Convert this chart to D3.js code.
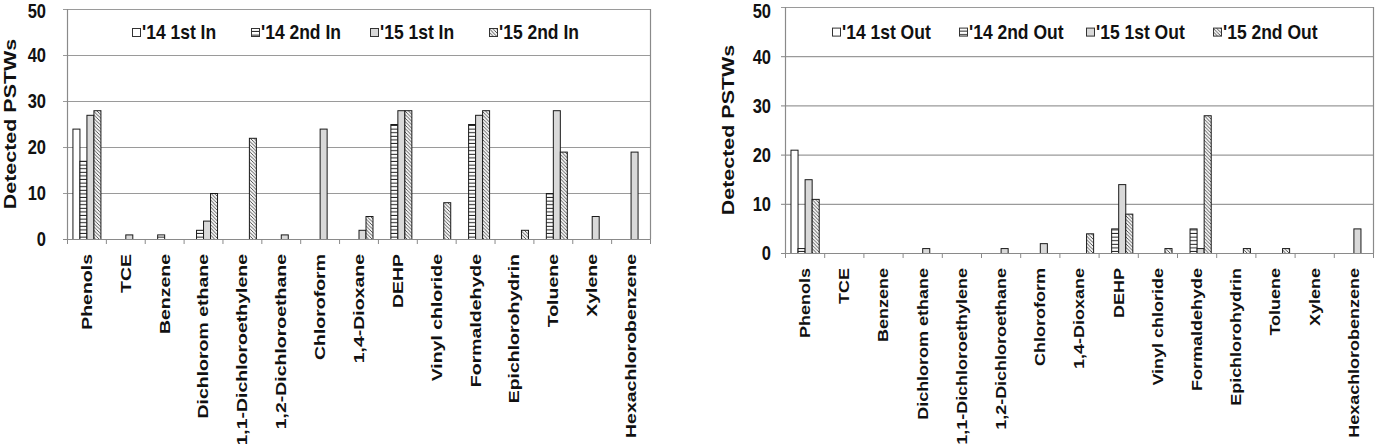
<!DOCTYPE html>
<html>
<head>
<meta charset="utf-8">
<script src="https://cdn.jsdelivr.net/npm/d3@7"></script>
<style>
  body { margin: 0; background: #fff; }
  svg { display: block; font-family: 'Liberation Sans', Arial, sans-serif; font-weight: bold; }
</style>
</head>
<body>
<div id="root"></div>
<script>
const categories = ['Phenols', 'TCE', 'Benzene', 'Dichloromethane', '1,1-Dichloroethylene',
  '1,2-Dichloroethane', 'Chloroform', '1,4-Dioxane', 'DEHP', 'Vinyl chloride',
  'Formaldehyde', 'Epichlorohydrin', 'Toluene', 'Xylene', 'Hexachlorobenzene']
// display text of the labels (the source splits one label oddly)
const categoryText = ['Phenols', 'TCE', 'Benzene', 'Dichlorom ethane', '1,1-Dichloroethylene',
  '1,2-Dichloroethane', 'Chloroform', '1,4-Dioxane', 'DEHP', 'Vinyl chloride',
  'Formaldehyde', 'Epichlorohydrin', 'Toluene', 'Xylene', 'Hexachlorobenzene']

const seriesIn = ["'14 1st In", "'14 2nd In", "'15 1st In", "'15 2nd In"]
const in14First = [24, 0, 0, 0, 0, 0, 0, 0, 0, 0, 0, 0, 0, 0, 0]
const in14Second = [17, 0, 1, 2, 0, 0, 0, 0, 25, 0, 25, 0, 10, 0, 0]
const in15First = [27, 1, 0, 4, 0, 1, 24, 2, 28, 0, 27, 0, 28, 5, 19]
const in15Second = [28, 0, 0, 10, 22, 0, 0, 5, 28, 8, 28, 2, 19, 0, 0]

const seriesOut = ["'14 1st Out", "'14 2nd Out", "'15 1st Out", "'15 2nd Out"]
const out14First = [21, 0, 0, 0, 0, 0, 0, 0, 0, 0, 0, 0, 0, 0, 0]
const out14Second = [1, 0, 0, 0, 0, 0, 0, 0, 5, 0, 5, 0, 0, 0, 0]
const out15First = [15, 0, 0, 1, 0, 1, 2, 0, 14, 0, 1, 0, 0, 0, 5]
const out15Second = [11, 0, 0, 0, 0, 0, 0, 4, 8, 1, 28, 1, 1, 0, 0]

const yTicks = [0, 10, 20, 30, 40, 50]
const yTitle = 'Detected PSTWs'

const fills = ['#ffffff', 'url(#stripes)', '#d9d9d9', 'url(#hatch)']
const STRETCH = 1.3 // source picture is squashed horizontally, text looks tall

const svg = d3.select('#root').append('svg')
  .attr('width', 1383)
  .attr('height', 444)

const defs = svg.append('defs')
const stripes = defs.append('pattern')
  .attr('id', 'stripes')
  .attr('patternUnits', 'userSpaceOnUse')
  .attr('width', 4).attr('height', 3.6)
stripes.append('rect').attr('width', 4).attr('height', 3.6).attr('fill', '#fff')
stripes.append('rect').attr('y', 2.6).attr('width', 4).attr('height', 1).attr('fill', '#222')

const hatch = defs.append('pattern')
  .attr('id', 'hatch')
  .attr('patternUnits', 'userSpaceOnUse')
  .attr('width', 3.5).attr('height', 3.5)
hatch.append('rect').attr('width', 3.5).attr('height', 3.5).attr('fill', '#f2f2f2')
hatch.append('path')
  .attr('d', 'M-1,-1L4.5,4.5M2.5,-1L4.5,1M-1,2.5L1,4.5')
  .attr('stroke', '#333').attr('stroke-width', 0.8)

function drawChart (cfg) {
  const x = d3.scaleBand()
    .domain(categories)
    .range([cfg.left, cfg.right])
  const inner = d3.scaleBand()
    .domain(d3.range(4))
    .range([x.bandwidth() * 0.14, x.bandwidth() * 0.86])
  const y = d3.scaleLinear()
    .domain([0, 50])
    .range([cfg.bottom, cfg.top])

  const g = svg.append('g')

  // gridlines
  g.append('g')
    .selectAll('line')
    .data(yTicks.filter(d => d > 0))
    .join('line')
    .attr('x1', cfg.left - 4)
    .attr('x2', cfg.right)
    .attr('y1', d => y(d) + 0.5)
    .attr('y2', d => y(d) + 0.5)
    .attr('stroke', '#9a9a9a')
    .attr('stroke-width', 1.2)

  // right border
  g.append('line')
    .attr('x1', cfg.right + 0.5).attr('x2', cfg.right + 0.5)
    .attr('y1', y(50)).attr('y2', y(0))
    .attr('stroke', '#8a8a8a').attr('stroke-width', 1.2)

  // y axis
  g.append('line')
    .attr('x1', cfg.left + 0.5).attr('x2', cfg.left + 0.5)
    .attr('y1', y(50)).attr('y2', y(0))
    .attr('stroke', '#8a8a8a').attr('stroke-width', 1.2)
  g.append('line')
    .attr('x1', cfg.left - 4).attr('x2', cfg.left)
    .attr('y1', y(0) + 0.5).attr('y2', y(0) + 0.5)
    .attr('stroke', '#8a8a8a')
  g.append('g')
    .selectAll('text')
    .data(yTicks)
    .join('text')
    .attr('transform', d => `translate(${cfg.left - cfg.tickGap},${Math.max(y(d), 11)}) scale(1,${STRETCH * 0.95})`)
    .attr('dy', '0.36em')
    .attr('text-anchor', 'end')
    .attr('font-size', 16.5)
    .attr('fill', '#111')
    .text(d => d)

  // bars
  const series = cfg.values
  g.append('g')
    .selectAll('g')
    .data(series)
    .join('g')
    .attr('fill', (d, i) => fills[i])
    .each(function (vals, si) {
      d3.select(this).selectAll('rect')
        .data(vals.map((v, ci) => ({ v, c: categories[ci] })).filter(d => d.v > 0))
        .join('rect')
        .attr('x', d => x(d.c) + inner(si) + 0.5)
        .attr('y', d => y(d.v) + 0.5)
        .attr('width', inner.bandwidth())
        .attr('height', d => y(0) - y(d.v))
        .attr('stroke', '#1a1a1a')
        .attr('stroke-width', 1)
    })

  // x axis
  g.append('line')
    .attr('x1', cfg.left).attr('x2', cfg.right + 1)
    .attr('y1', y(0) + 0.5).attr('y2', y(0) + 0.5)
    .attr('stroke', '#8a8a8a').attr('stroke-width', 1.2)
  g.append('g')
    .selectAll('line')
    .data(categories.concat(['end']))
    .join('line')
    .attr('x1', (d, i) => i < categories.length ? x(d) + 0.5 : cfg.right + 0.5)
    .attr('x2', (d, i) => i < categories.length ? x(d) + 0.5 : cfg.right + 0.5)
    .attr('y1', y(0))
    .attr('y2', y(0) + 5)
    .attr('stroke', '#8a8a8a')
  g.append('g')
    .selectAll('text')
    .data(categories)
    .join('text')
    .attr('transform', d => `translate(${x(d) + x.bandwidth() / 2},${y(0) + cfg.labelGap}) rotate(-90) scale(${cfg.labelStretch},1)`)
    .attr('dy', '0.36em')
    .attr('text-anchor', 'end')
    .attr('font-size', 15)
    .attr('fill', '#111')
    .text((d, i) => categoryText[i])

  // y title
  g.append('text')
    .attr('transform', `translate(${cfg.titleX},${cfg.titleY}) rotate(-90) scale(${STRETCH},1)`)
    .attr('dy', '0.36em')
    .attr('text-anchor', 'middle')
    .attr('font-size', 16.5)
    .attr('fill', '#111')
    .text(yTitle)

  // legend
  const legendY = (y(50) + y(40)) / 2
  const lg = g.append('g')
    .selectAll('g')
    .data(cfg.names)
    .join('g')
    .attr('transform', (d, i) => `translate(${cfg.legendX + i * cfg.legendStep},${legendY})`)
  lg.append('rect')
    .attr('x', 0.5).attr('y', -3.5)
    .attr('width', 8).attr('height', 8)
    .attr('fill', (d, i) => fills[i])
    .attr('stroke', '#333')
  lg.append('text')
    .attr('transform', `translate(10,0) scale(1,${STRETCH * 0.9})`)
    .attr('dy', '0.36em')
    .attr('font-size', 17.5)
    .attr('fill', '#111')
    .text(d => d)
}

drawChart({
  left: 67,
  right: 650,
  top: 9,
  bottom: 239,
  tickGap: 21,
  labelGap: 15,
  labelStretch: 1.3,
  titleX: 10,
  titleY: 124,
  legendX: 132,
  legendStep: 119,
  names: seriesIn,
  values: [in14First, in14Second, in15First, in15Second]
})

drawChart({
  left: 785,
  right: 1373,
  top: 7,
  bottom: 253,
  tickGap: 14,
  labelGap: 15,
  labelStretch: 1.2,
  titleX: 728,
  titleY: 130,
  legendX: 832,
  legendStep: 127,
  names: seriesOut,
  values: [out14First, out14Second, out15First, out15Second]
})
</script>
</body>
</html>
